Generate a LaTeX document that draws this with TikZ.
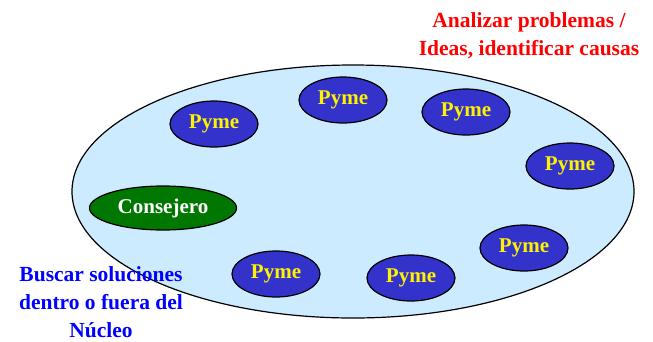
\documentclass[tikz,border=0pt]{standalone}
\usepackage{fontspec}
\setmainfont{Liberation Serif}
\usetikzlibrary{shapes.geometric}
\definecolor{nucleo}{HTML}{CCEBFF}
\definecolor{pymefill}{HTML}{3333CC}
\definecolor{consejo}{HTML}{007700}
\begin{document}
\begin{tikzpicture}[x=1pt,y=-1pt,
  oval/.style={ellipse, draw=black, line width=1.2pt, inner sep=0pt},
  nodefont/.style={font=\fontsize{21}{24}\selectfont\bfseries},
  pyme/.style={oval, nodefont, fill=pymefill, text=yellow,
    minimum width=88pt, minimum height=46pt},
  consejero/.style={oval, nodefont, fill=consejo, text=white,
    minimum width=147pt, minimum height=44pt},
  note/.style={align=center, font=\fontsize{21.5}{28}\selectfont\bfseries}]
\useasboundingbox (0,0) rectangle (653,341);
% the core group
\node[oval, fill=nucleo, minimum width=562pt, minimum height=253pt] (nucleo) at (353,191.5) {};
% member firms around the core
\node[pyme] (p1) at (214,124) {Pyme};
\node[pyme] (p2) at (343,100) {Pyme};
\node[pyme] (p3) at (466,112) {Pyme};
\node[pyme] (p4) at (570,166) {Pyme};
\node[pyme] (p5) at (524,248) {Pyme};
\node[pyme] (p6) at (411,278) {Pyme};
\node[pyme] (p7) at (276,274) {Pyme};
% adviser
\node[consejero] (cons) at (163,208) {Consejero};
% side notes
\node[note, text=red] (analizar) at (529,36) {Analizar problemas /\\Ideas, identificar causas};
\node[note, text=blue] (buscar) at (101,302) {Buscar soluciones\\dentro o fuera del\\Núcleo};
\end{tikzpicture}
\end{document}
